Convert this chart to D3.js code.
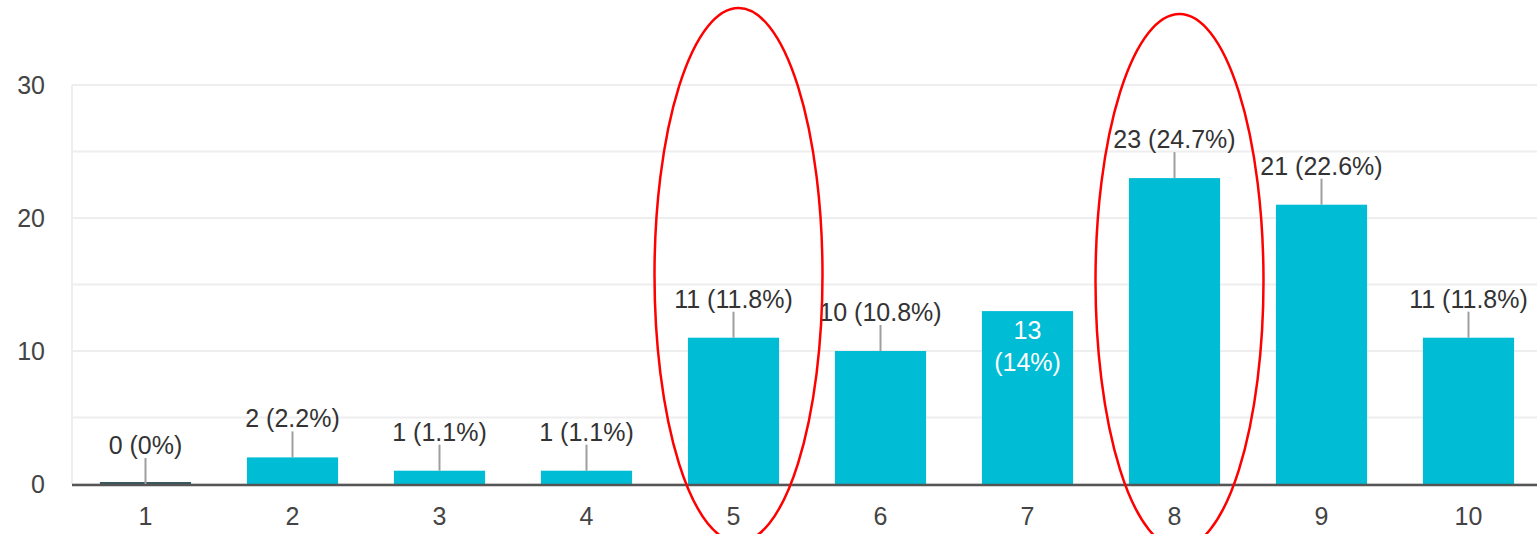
<!DOCTYPE html>
<html>
<head>
<meta charset="utf-8">
<script src="https://cdn.jsdelivr.net/npm/d3@7"></script>
<style>
  html, body { margin: 0; padding: 0; background: #fff; }
  svg { display: block; font-family: "Liberation Sans", Arial, sans-serif; }
</style>
</head>
<body>
<div id="chart"></div>
<script>
let categories = ['1', '2', '3', '4', '5', '6', '7', '8', '9', '10']
let counts = [0, 2, 1, 1, 11, 10, 13, 23, 21, 11]
let percents = ['0%', '2.2%', '1.1%', '1.1%', '11.8%', '10.8%', '14%', '24.7%', '22.6%', '11.8%']
let insideLabels = ['7']
let yTicks = [0, 10, 20, 30]
let gridTicks = [0, 5, 10, 15, 20, 25, 30]
// red hand drawn marks around answers 5 and 8
let circled = ['5', '8']

let width = 1537, height = 534
let barColor = '#00bcd4'

let svg = d3.select('#chart').append('svg')
  .attr('width', width)
  .attr('height', height)

let x = d3.scaleBand()
  .domain(categories)
  .range([72, 1542])
  .paddingInner(0.38)
  .paddingOuter(0.19)

let y = d3.scaleLinear()
  .domain([0, 30])
  .range([484, 85])

// grid
svg.append('g').selectAll('line')
  .data(gridTicks)
  .enter().append('line')
  .attr('x1', 72).attr('x2', width)
  .attr('y1', d => y(d)).attr('y2', d => y(d))
  .attr('stroke', '#eeeeee')
  .attr('stroke-width', 2)

svg.append('line')
  .attr('x1', 72).attr('x2', 72)
  .attr('y1', y(30)).attr('y2', y(0))
  .attr('stroke', '#eeeeee')
  .attr('stroke-width', 2)

// y axis labels
let yAxis = d3.axisLeft(y).tickValues(yTicks).tickSize(0).tickPadding(0)
let yg = svg.append('g')
  .attr('transform', 'translate(45,0)')
  .call(yAxis)
yg.select('.domain').remove()
yg.selectAll('text')
  .attr('font-size', '25px')
  .attr('font-family', '"Liberation Sans", Arial, sans-serif')
  .attr('fill', '#444')
  .attr('dy', '0.35em')

// x axis labels
let xAxis = d3.axisBottom(x).tickSize(0).tickPadding(0)
let xg = svg.append('g')
  .attr('transform', 'translate(0,507)')
  .call(xAxis)
xg.select('.domain').remove()
xg.selectAll('text')
  .attr('font-size', '25px')
  .attr('font-family', '"Liberation Sans", Arial, sans-serif')
  .attr('fill', '#444')
  .attr('dy', '0.71em')

// bars
svg.append('g').selectAll('rect')
  .data(categories)
  .enter().append('rect')
  .attr('x', d => x(d))
  .attr('width', x.bandwidth())
  .attr('y', (d, i) => y(counts[i]))
  .attr('height', (d, i) => y(0) - y(counts[i]))
  .attr('fill', barColor)

// zero bar shows as a thin dark line
svg.append('g').selectAll('line')
  .data(categories.filter((d, i) => counts[i] === 0))
  .enter().append('line')
  .attr('x1', d => x(d)).attr('x2', d => x(d) + x.bandwidth())
  .attr('y1', y(0) - 1).attr('y2', y(0) - 1)
  .attr('stroke', '#37585e')
  .attr('stroke-width', 2)

// baseline
svg.append('line')
  .attr('x1', 72).attr('x2', width)
  .attr('y1', y(0) + 1).attr('y2', y(0) + 1)
  .attr('stroke', '#555')
  .attr('stroke-width', 2.5)

// labels
let labels = svg.append('g')
categories.forEach((c, i) => {
  let cx = x(c) + x.bandwidth() / 2
  let top = y(counts[i])
  if (insideLabels.includes(c)) {
    let t = labels.append('text')
      .attr('text-anchor', 'middle')
      .attr('font-size', '25px')
      .attr('fill', '#fff')
    t.append('tspan').attr('x', cx).attr('y', top + 28).text(counts[i])
    t.append('tspan').attr('x', cx).attr('y', top + 60).text('(' + percents[i] + ')')
  } else {
    labels.append('line')
      .attr('x1', cx).attr('x2', cx)
      .attr('y1', top - 26).attr('y2', top)
      .attr('stroke', '#9e9e9e')
      .attr('stroke-width', 2)
    labels.append('text')
      .attr('x', cx)
      .attr('y', top - 30)
      .attr('text-anchor', 'middle')
      .attr('font-size', '25px')
      .attr('fill', '#333')
      .text(counts[i] + ' (' + percents[i] + ')')
  }
})

// red ellipses
svg.append('g').selectAll('ellipse')
  .data(circled)
  .enter().append('ellipse')
  .attr('cx', d => x(d) + x.bandwidth() / 2 + 5)
  .attr('cy', (d, i) => i === 0 ? 275 : 281)
  .attr('rx', 84)
  .attr('ry', 267)
  .attr('fill', 'none')
  .attr('stroke', '#ff0000')
  .attr('stroke-width', 2.5)
</script>
</body>
</html>
